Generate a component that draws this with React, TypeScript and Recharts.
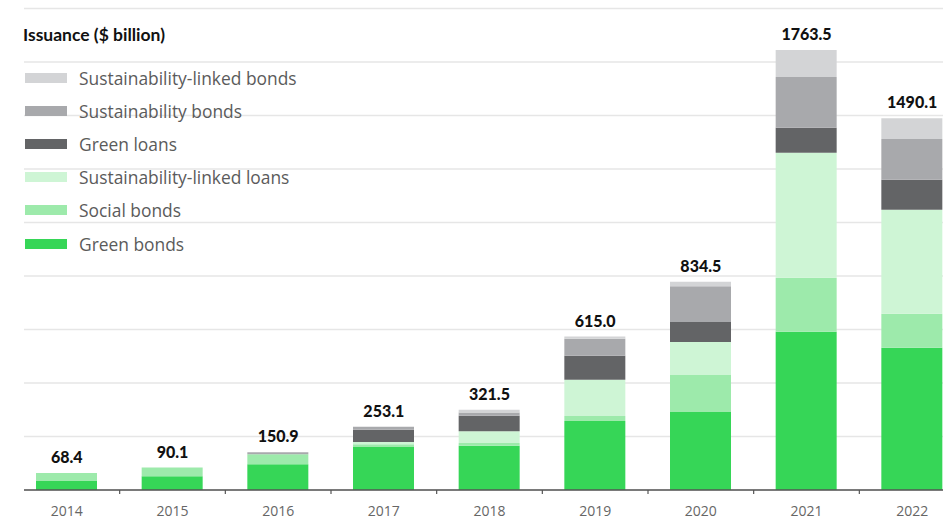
import React from 'react';
import { ComposedChart, Bar, Line, XAxis, YAxis, CartesianGrid, LabelList } from 'recharts';

const years = ['2014', '2015', '2016', '2017', '2018', '2019', '2020', '2021', '2022'];
const greenBonds = [36, 55, 103, 172, 177, 277, 313, 634.5, 570.1];
const socialBonds = [32.4, 35.1, 40, 11, 11.5, 20, 148, 216, 136];
const sustainabilityLinkedLoans = [0, 0, 0, 9, 47, 145, 132, 501, 417];
const greenLoans = [0, 0, 0, 49, 62.5, 96, 80, 101, 120];
const sustainabilityBonds = [0, 0, 7.9, 12.1, 13, 68, 144, 203, 164];
const sustainabilityLinkedBonds = [0, 0, 0, 0, 10.5, 9, 17.5, 108, 83];
const totals = [68.4, 90.1, 150.9, 253.1, 321.5, 615.0, 834.5, 1763.5, 1490.1];
const yTicks = [0, 214.4, 428.9, 643.3, 857.8, 1072.2, 1286.7, 1501.1, 1715.6, 1930];

const series = [
  { key: 'gb', name: 'Green bonds', color: '#36d657', values: greenBonds },
  { key: 'sb', name: 'Social bonds', color: '#9deaab', values: socialBonds },
  { key: 'sll', name: 'Sustainability-linked loans', color: '#cef5d5', values: sustainabilityLinkedLoans },
  { key: 'gl', name: 'Green loans', color: '#636466', values: greenLoans },
  { key: 'sub', name: 'Sustainability bonds', color: '#a8a9ac', values: sustainabilityBonds },
  { key: 'slb', name: 'Sustainability-linked bonds', color: '#d3d4d6', values: sustainabilityLinkedBonds },
];

const data = years.map((year, i) => {
  const row: Record<string, any> = { year, total: totals[i] };
  series.forEach((s) => {
    row[s.key] = s.values[i];
  });
  return row;
});

const CHART_W = 965;
const CHART_H = 519;
const LEFT = 24;
const PAD_LEFT = -10;
const BAND = (CHART_W - LEFT - PAD_LEFT) / years.length;
const FONT = 'Lato, "Open Sans", sans-serif';
const FONT2 = '"Open Sans", Lato, sans-serif';

const Tick = (props: any) => {
  const { x, y, payload } = props;
  return (
    <g>
      <line x1={x + BAND / 2} x2={x + BAND / 2} y1={y} y2={y + 4} stroke="#555" strokeWidth={1.2} />
      <text x={x} y={y + 26} textAnchor="middle" fontFamily={FONT2} fontSize={14} fill="#666">
        {payload.value}
      </text>
    </g>
  );
};

const TotalLabel = (props: any) => {
  const { x, y, value } = props;
  return (
    <text
      x={x}
      y={y - 10}
      textAnchor="middle"
      fontFamily={FONT}
      fontWeight={900}
      fontSize={16}
      fill="#111"
    >
      {Number(value).toFixed(1)}
    </text>
  );
};

const legendCenters = [77.5, 110.5, 143.5, 177, 210, 243.5];

export default function App() {
  const legendItems = [...series].reverse();
  return (
    <div style={{ position: 'absolute', left: 0, top: 0, width: 943, height: 519, overflow: 'hidden', background: '#fff' }}>
      <ComposedChart
        width={CHART_W}
        height={CHART_H}
        data={data}
        margin={{ top: 8.5, right: 0, bottom: 0, left: LEFT }}
        barSize={61}
      >
        <CartesianGrid vertical={false} stroke="#e6e6e6" strokeWidth={1.5} />
        <YAxis hide domain={[0, 1930]} ticks={yTicks} />
        <XAxis
          dataKey="year"
          height={29}
          padding={{ left: PAD_LEFT, right: 0 }}
          axisLine={{ stroke: '#555', strokeWidth: 1.3 }}
          tickLine={false}
          tickSize={0}
          tickMargin={0}
          tick={<Tick />}
          interval={0}
        />
        {series.map((s) => (
          <Bar key={s.key} dataKey={s.key} name={s.name} stackId="a" fill={s.color} isAnimationActive={false} />
        ))}
        <Line
          dataKey="total"
          stroke="none"
          dot={false}
          activeDot={false}
          legendType="none"
          isAnimationActive={false}
        >
          <LabelList dataKey="total" content={<TotalLabel />} />
        </Line>
      </ComposedChart>
      <div
        style={{
          position: 'absolute',
          left: 23,
          top: 26,
          lineHeight: '18px',
          fontFamily: FONT,
          fontWeight: 700,
          fontSize: 17.5,
          color: '#111',
          whiteSpace: 'nowrap',
        }}
      >
        Issuance ($ billion)
      </div>
      {legendItems.map((s, i) => (
        <div
          key={s.key}
          style={{
            position: 'absolute',
            left: 25,
            top: legendCenters[i] - 10,
            height: 20,
            display: 'flex',
            alignItems: 'center',
            whiteSpace: 'nowrap',
          }}
        >
          <div style={{ width: 42, height: 10, background: s.color }} />
          <span style={{ marginLeft: 12, fontFamily: FONT2, fontSize: 17.4, color: '#5b5b5b' }}>{s.name}</span>
        </div>
      ))}
    </div>
  );
}
